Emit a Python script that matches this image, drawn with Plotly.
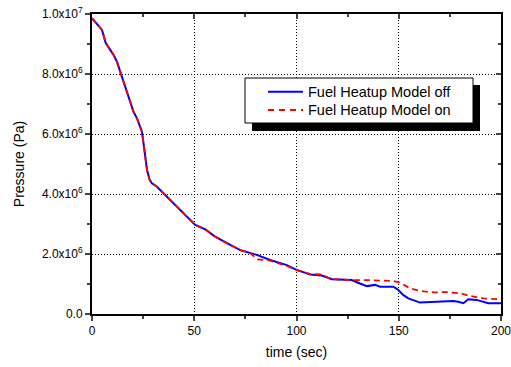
import plotly.graph_objects as go

# ---- data (time in s, pressure in units of 1e6 Pa) ----
t_off = [0, 2.1, 4.9, 6.5, 7.3, 10.6, 12.2, 13.8, 15.4, 17.1, 18.7, 20.3, 22, 23.6, 24.4,
         25.2, 26, 26.9, 28.2, 29.3, 31.8, 35, 37.4, 41.5, 46.4, 50.5, 55.4, 60.2, 66, 72.5,
         80.6, 87.1, 95.3, 100, 106.7, 112.4, 117.3, 127, 129.5, 134.4, 138.4, 140.9, 147.4,
         149.8, 152.3, 154.7, 160.4, 166.9, 176.7, 179.1, 181.6, 184, 188.1, 193.8, 200]
p_off = [9.86, 9.69, 9.47, 9.08, 8.97, 8.63, 8.41, 8.08, 7.74, 7.41, 7.08, 6.74, 6.52, 6.24, 6.08,
         5.69, 5.24, 4.80, 4.47, 4.36, 4.24, 4.02, 3.84, 3.58, 3.24, 2.97, 2.82, 2.58, 2.36, 2.13,
         1.97, 1.80, 1.63, 1.47, 1.32, 1.28, 1.16, 1.13, 1.06, 0.93, 0.97, 0.91, 0.91,
         0.80, 0.63, 0.52, 0.38, 0.40, 0.43, 0.41, 0.36, 0.49, 0.47, 0.36, 0.36]

t_on = [0, 2.1, 4.9, 6.5, 7.3, 10.6, 12.2, 13.8, 15.4, 17.1, 18.7, 20.3, 22, 23.6, 24.4,
        25.2, 26, 26.9, 28.2, 29.3, 31.8, 35, 37.4, 41.5, 46.4, 50.5, 55.4, 60.2, 66, 72.5,
        77, 81, 87.1, 95.3, 100, 106.7, 112.4, 116.4, 126.2, 134.4, 147.4, 150.7, 155.5,
        160.4, 166.9, 173.5, 180, 184.9, 191.4, 200]
p_on = [9.86, 9.69, 9.47, 9.08, 8.97, 8.63, 8.41, 8.08, 7.74, 7.41, 7.08, 6.74, 6.52, 6.24, 6.08,
        5.69, 5.24, 4.80, 4.47, 4.36, 4.24, 4.02, 3.84, 3.58, 3.24, 2.97, 2.82, 2.58, 2.36, 2.13,
        2.05, 1.82, 1.78, 1.60, 1.47, 1.33, 1.32, 1.17, 1.13, 1.13, 1.10, 1.04, 0.86,
        0.77, 0.72, 0.73, 0.69, 0.60, 0.52, 0.49]

y_tickvals = [0, 2e6, 4e6, 6e6, 8e6, 1e7]
y_ticktext = ["0.0", "2.0x10<sup>6</sup>", "4.0x10<sup>6</sup>", "6.0x10<sup>6</sup>",
              "8.0x10<sup>6</sup>", "1.0x10<sup>7</sup>"]
x_tickvals = [0, 50, 100, 150, 200]

names = ["Fuel Heatup Model off", "Fuel Heatup Model on"]
colors = ["#0000ff", "#ff0000"]

FONT = "Arial, Liberation Sans, sans-serif"

# plot-area pixel geometry helpers (for legend placement in paper coords)
L, R, T, B = 92, 501, 14, 314
def px(x):
    return (x - L) / (R - L)
def py(y):
    return (B - y) / (B - T)

fig = go.Figure()
fig.add_trace(go.Scatter(x=t_off, y=[v * 1e6 for v in p_off], mode="lines", name=names[0],
                         line=dict(color=colors[0], width=2)))
fig.add_trace(go.Scatter(x=t_on, y=[v * 1e6 for v in p_on], mode="lines", name=names[1],
                         line=dict(color=colors[1], width=1.8, dash="6px,4px")))
# helper trace for top/right axes
fig.add_trace(go.Scatter(x=[0], y=[0], xaxis="x2", yaxis="y2", showlegend=False,
                         hoverinfo="skip", mode="markers", marker=dict(opacity=0)))

shapes = [
    # legend shadow
    dict(type="rect", xref="paper", yref="paper", x0=px(252), x1=px(480),
         y0=py(131), y1=py(85), fillcolor="black", line=dict(width=0), layer="above"),
    # legend box
    dict(type="rect", xref="paper", yref="paper", x0=px(245), x1=px(473),
         y0=py(123), y1=py(78), fillcolor="white",
         line=dict(color="black", width=1), layer="above"),
    # legend samples
    dict(type="line", xref="paper", yref="paper", x0=px(268), x1=px(303),
         y0=py(91.7), y1=py(91.7), line=dict(color=colors[0], width=2), layer="above"),
    dict(type="line", xref="paper", yref="paper", x0=px(268), x1=px(303),
         y0=py(110), y1=py(110), line=dict(color=colors[1], width=2, dash="6px,5px"),
         layer="above"),
]
annotations = [
    dict(text=names[0], xref="paper", yref="paper", x=px(306), y=py(91.7), xanchor="left",
         yanchor="middle", showarrow=False, font=dict(size=14.5, family=FONT, color="black")),
    dict(text=names[1], xref="paper", yref="paper", x=px(306), y=py(110), xanchor="left",
         yanchor="middle", showarrow=False, font=dict(size=14.5, family=FONT, color="black")),
]

fig.update_layout(
    width=511, height=367,
    margin=dict(l=L, r=511 - R, t=T, b=367 - B, autoexpand=False),
    paper_bgcolor="white", plot_bgcolor="white",
    font=dict(family=FONT, color="black"),
    showlegend=False,
    xaxis=dict(range=[0, 200], tickvals=x_tickvals, ticks="outside", ticklen=5, tickwidth=1.5,
               showline=True, linecolor="black", linewidth=2, zeroline=False,
               showgrid=True, gridcolor="black", gridwidth=1, griddash="1px,2px",
               tickfont=dict(size=12), ticklabeloverflow="allow", automargin=False,
               minor=dict(dtick=25, ticks="outside", ticklen=3, tickwidth=1.5, showgrid=False),
               title=dict(text="time (sec)", font=dict(size=14), standoff=10)),
    yaxis=dict(range=[0, 1e7], tickvals=y_tickvals, ticktext=y_ticktext, ticks="outside",
               ticklen=5, tickwidth=1.5, automargin=False,
               showline=True, linecolor="black", linewidth=2, zeroline=False,
               showgrid=True, gridcolor="black", gridwidth=1, griddash="1px,2px",
               tickfont=dict(size=12), ticklabeloverflow="allow",
               minor=dict(dtick=1e6, ticks="outside", ticklen=3, tickwidth=1.5, showgrid=False),
               title=dict(text="Pressure (Pa)", font=dict(size=14), standoff=14)),
    xaxis2=dict(overlaying="x", side="top", range=[0, 200], tickvals=x_tickvals, ticks="inside",
                ticklen=5, tickwidth=1.5, showticklabels=False, showline=True, linecolor="black",
                linewidth=2, showgrid=False, zeroline=False, automargin=False,
                minor=dict(dtick=25, ticks="inside", ticklen=3, tickwidth=1.5)),
    yaxis2=dict(overlaying="y", side="right", range=[0, 1e7], tickvals=y_tickvals, ticks="inside",
                ticklen=5, tickwidth=1.5, showticklabels=False, showline=True, linecolor="black",
                linewidth=2, showgrid=False, zeroline=False, automargin=False,
                minor=dict(dtick=1e6, ticks="inside", ticklen=3, tickwidth=1.5)),
    shapes=shapes,
    annotations=annotations,
)

fig.write_html("out.html")
